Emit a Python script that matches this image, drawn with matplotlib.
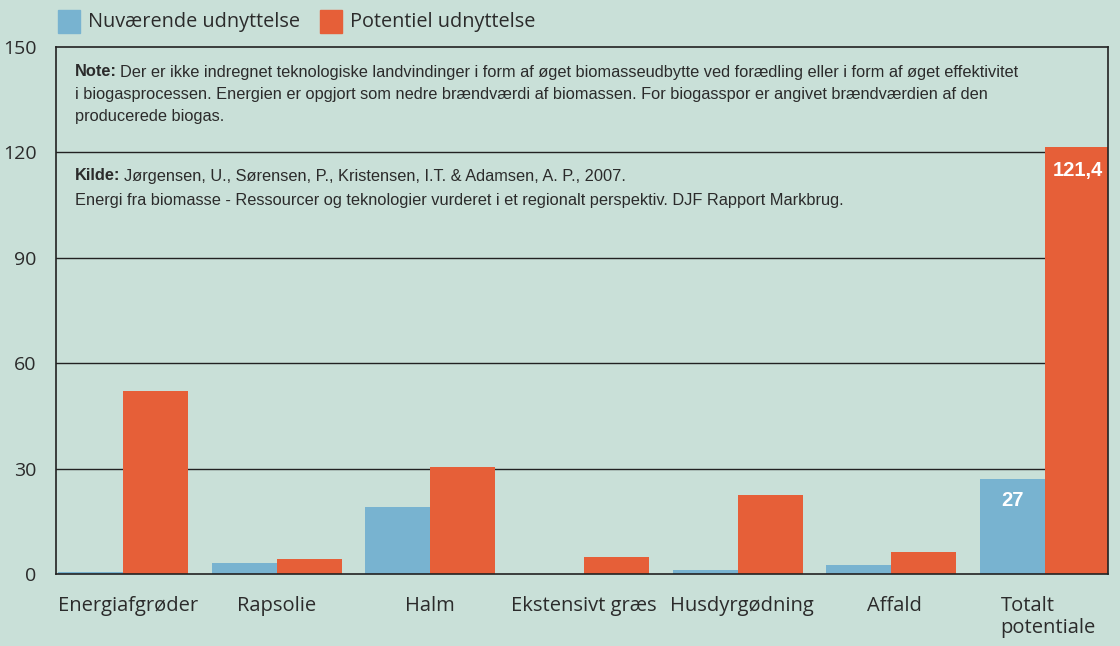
import matplotlib
matplotlib.use("Agg")
import matplotlib.pyplot as plt
import numpy as np
from matplotlib import font_manager
from matplotlib.patches import Rectangle

categories = ["Energiafgrøder", "Rapsolie", "Halm", "Ekstensivt græs",
              "Husdyrgødning", "Affald", "Totalt\npotentiale"]
current = [0.6, 3.1, 19.1, 0.0, 1.0, 2.6, 27.0]
potential = [52.1, 4.3, 30.5, 4.8, 22.5, 6.3, 121.4]
yticks = [0, 30, 60, 90, 120, 150]
legend_labels = ["Nuværende udnyttelse", "Potentiel udnyttelse"]
note_lines = ["Der er ikke indregnet teknologiske landvindinger i form af øget biomasseudbytte ved forædling eller i form af øget effektivitet",
              "i biogasprocessen. Energien er opgjort som nedre brændværdi af biomassen. For biogasspor er angivet brændværdien af den",
              "producerede biogas."]
kilde_lines = ["Jørgensen, U., Sørensen, P., Kristensen, I.T. & Adamsen, A. P., 2007.",
               "Energi fra biomasse - Ressourcer og teknologier vurderet i et regionalt perspektiv. DJF Rapport Markbrug."]

names = {f.name for f in font_manager.fontManager.ttflist}
main_font = "Open Sans" if "Open Sans" in names else "DejaVu Sans"
cond_font = "Liberation Sans Narrow" if "Liberation Sans Narrow" in names else "Liberation Sans"

BG = "#C9E0D8"
BLUE = "#78B3D0"
ORANGE = "#E65F38"
TXT = "#2b2b2b"

fig = plt.figure(figsize=(11.2, 6.46), dpi=100, facecolor=BG)
ax = fig.add_axes([0.05, 0.1115, 0.9393, 0.8157])
ax.set_facecolor(BG)

x = np.arange(len(categories))
w = 0.423
ax.bar(x - w / 2, current, width=w, color=BLUE, zorder=3)
ax.bar(x + w / 2, potential, width=w, color=ORANGE, zorder=3)

ax.set_xlim(-0.436, 6.41)
ax.set_ylim(0, 150)
ax.set_yticks(yticks)
ax.set_yticklabels([str(t) for t in yticks], fontsize=14, color=TXT, family=main_font)
ax.tick_params(axis="y", length=0, pad=14)
ax.tick_params(axis="x", length=0)
ax.set_xticks([])
for t in yticks[1:-1]:
    ax.axhline(t, color="#222222", lw=1.0, zorder=1)
for s in ax.spines.values():
    s.set_color("#222222")
    s.set_linewidth(1.2)
    s.set_zorder(4)

label_x = [0.03, 0.0, 0.0, 0.0, 0.03, 0.02, 0.02]
for i, c in enumerate(categories):
    ax.text(x[i] + label_x[i], -6.3, c, ha="center", va="top", fontsize=14.5,
            color=TXT, family=main_font, multialignment="left", linespacing=1.1)

# value labels
ax.text(x[6] - w / 2, current[6] - 6, "27", ha="center", va="center", color="white",
        fontsize=14.5, fontweight="bold", family=cond_font, zorder=5)
ax.text(x[6] + w / 2, potential[6] - 6.5, "121,4", ha="center", va="center", color="white",
        fontsize=14.5, fontweight="bold", family=cond_font, zorder=5)

fs = 11.8
def ftext(px, py, s, bold=False):
    fig.text(px / 1120, 1 - py / 646, s, fontsize=fs, fontweight="bold" if bold else "normal",
             family=cond_font, color=TXT, va="center", ha="left")

ftext(75, 72, "Note:", True)
ftext(120, 72, note_lines[0])
ftext(75, 95, note_lines[1])
ftext(75, 117, note_lines[2])
ftext(75, 176, "Kilde:", True)
ftext(124, 176, kilde_lines[0])
ftext(75, 200, kilde_lines[1])

# legend
fig.patches.append(Rectangle((58 / 1120, 1 - 33 / 646), 22 / 1120, 23 / 646,
                             transform=fig.transFigure, color=BLUE))
fig.text(88 / 1120, 1 - 22 / 646, legend_labels[0], fontsize=14.3, family=main_font,
         color=TXT, va="center", ha="left")
fig.patches.append(Rectangle((320 / 1120, 1 - 33 / 646), 22 / 1120, 23 / 646,
                             transform=fig.transFigure, color=ORANGE))
fig.text(350 / 1120, 1 - 22 / 646, legend_labels[1], fontsize=14.3, family=main_font,
         color=TXT, va="center", ha="left")

fig.savefig("out.png", dpi=100, facecolor=BG)
